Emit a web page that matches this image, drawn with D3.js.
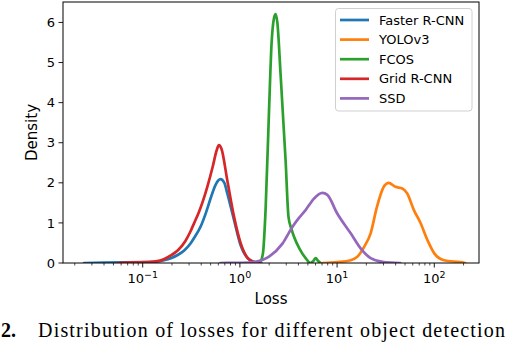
<!DOCTYPE html>
<html>
<head>
<meta charset="utf-8">
<script src="https://cdn.jsdelivr.net/npm/d3@7"></script>
<style>
  body { margin: 0; background: #fff; }
  svg { display: block; }
</style>
</head>
<body>
<svg width="506" height="342"></svg>
<script>
// Series names and colours (matplotlib tab10)
const names = ["Faster R-CNN", "YOLOv3", "FCOS", "Grid R-CNN", "SSD"];
const colors = ["#1f77b4", "#ff7f0e", "#2ca02c", "#d62728", "#9467bd"];

// KDE curves: [loss, density]
const fasterRcnn = [[0.025,0],[0.040,0.01],[0.063,0.015],[0.1,0.02],[0.132,0.03],[0.166,0.07],
  [0.195,0.12],[0.229,0.2],[0.269,0.32],[0.309,0.48],[0.339,0.63],[0.398,0.93],[0.447,1.25],
  [0.501,1.62],[0.562,1.95],[0.631,2.09],[0.692,2.0],[0.741,1.74],[0.871,1.07],[1.016,0.45],
  [1.202,0.12],[1.380,0.03],[1.66,0]];
const yolov3 = [[7.08,0],[10,0.02],[13.8,0.07],[16.2,0.16],[19.05,0.41],[22.13,0.74],[25.7,1.4],
  [30.2,1.9],[33.9,2.0],[39.8,1.9],[46.8,1.86],[52.5,1.74],[61.7,1.32],[72.4,0.99],[85.1,0.57],
  [100,0.24],[125.9,0.07],[186.2,0.02],[208.9,0]];
const fcos = [[1.549,0],[1.622,0.03],[1.726,0.24],[1.837,1.32],[1.995,3.82],[2.118,5.48],
  [2.239,6.1],[2.328,6.21],[2.427,6.0],[2.630,4.65],[2.951,2.57],[3.162,1.15],[3.388,0.85],
  [3.597,0.66],[4.074,0.37],[4.742,0.12],[5.333,0],[5.689,0.05],[6.026,0.12],[6.383,0.05],[6.761,0]];
const gridRcnn = [[0.056,0],[0.079,0.015],[0.112,0.02],[0.151,0.06],[0.195,0.19],[0.229,0.31],
  [0.275,0.55],[0.309,0.78],[0.339,1.0],[0.380,1.28],[0.417,1.55],[0.462,1.9],[0.525,2.4],
  [0.575,2.8],[0.608,2.94],[0.646,2.85],[0.741,2.07],[0.871,1.15],[1.016,0.5],[1.202,0.12],
  [1.380,0.03],[1.585,0]];
const ssd = [[0.631,0],[1.0,0.005],[1.259,0.01],[1.445,0.03],[1.995,0.16],[2.754,0.49],
  [3.467,0.9],[3.981,1.1],[4.742,1.32],[5.754,1.6],[7.047,1.75],[7.943,1.7],[10,1.24],
  [13.80,0.74],[17.38,0.37],[22.13,0.12],[30.2,0.02],[44.67,0]];
const series = [fasterRcnn, yolov3, fcos, gridRcnn, ssd];

const yTicks = [0, 1, 2, 3, 4, 5, 6];
const xTicks = [0.1, 1, 10, 100];
const xTickExp = ["\u22121", "0", "1", "2"];
const caption = "Distribution of losses for different object detection";

const svg = d3.select("svg");
const plotL = 63, plotR = 479, plotT = 2, plotB = 263;

const x = d3.scaleLog().domain([Math.pow(10, -1.82), Math.pow(10, 2.46)]).range([plotL, plotR]);
const y = d3.scaleLinear().domain([0, 6.51]).range([plotB, plotT]);

// clip
svg.append("defs").append("clipPath").attr("id", "plot")
  .append("rect").attr("x", plotL).attr("y", plotT).attr("width", plotR - plotL).attr("height", plotB - plotT);

const line = d3.line()
  .x(d => x(d[0]))
  .y(d => y(d[1]))
  .curve(d3.curveMonotoneX);

const g = svg.append("g").attr("clip-path", "url(#plot)");
series.forEach((s, i) => {
  g.append("path")
    .attr("d", line(s))
    .attr("fill", "none")
    .attr("stroke", colors[i])
    .attr("stroke-width", 2.7)
    .attr("stroke-linejoin", "round")
    .attr("stroke-linecap", "round");
});

// y axis ticks
const yAxis = svg.append("g").attr("font-family", "DejaVu Sans").attr("font-size", 13);
yTicks.forEach(t => {
  yAxis.append("line").attr("x1", plotL - 4.5).attr("x2", plotL)
    .attr("y1", y(t)).attr("y2", y(t)).attr("stroke", "#000").attr("stroke-width", 0.9);
  yAxis.append("text").attr("x", plotL - 8).attr("y", y(t)).attr("dy", "0.36em")
    .attr("text-anchor", "end").text(t);
});

// x axis minor ticks
const xAxis = svg.append("g").attr("font-family", "DejaVu Sans").attr("font-size", 13);
const [d0, d1] = x.domain();
for (let e = -2; e <= 2; e++) {
  for (let m = 2; m <= 9; m++) {
    const v = m * Math.pow(10, e);
    if (v < d0 || v > d1) continue;
    xAxis.append("line").attr("x1", x(v)).attr("x2", x(v))
      .attr("y1", plotB).attr("y2", plotB + 2.5).attr("stroke", "#000").attr("stroke-width", 0.7);
  }
}
xTicks.forEach((t, i) => {
  xAxis.append("line").attr("x1", x(t)).attr("x2", x(t))
    .attr("y1", plotB).attr("y2", plotB + 4.5).attr("stroke", "#000").attr("stroke-width", 0.9);
  const txt = xAxis.append("text").attr("x", x(t)).attr("y", plotB + 20).attr("text-anchor", "middle");
  txt.append("tspan").text("10");
  txt.append("tspan").attr("dy", -5).attr("font-size", 9.5).text(xTickExp[i]);
});

// frame
svg.append("rect").attr("x", plotL).attr("y", plotT).attr("width", plotR - plotL).attr("height", plotB - plotT)
  .attr("fill", "none").attr("stroke", "#000").attr("stroke-width", 1);

// axis labels
svg.append("text").attr("x", (plotL + plotR) / 2).attr("y", 304)
  .attr("text-anchor", "middle").attr("font-family", "DejaVu Sans").attr("font-size", 15)
  .text("Loss");
svg.append("text").attr("transform", "translate(37," + ((plotT + plotB) / 2) + ") rotate(-90)")
  .attr("text-anchor", "middle").attr("font-family", "DejaVu Sans").attr("font-size", 15)
  .text("Density");

// legend
const lg = svg.append("g").attr("font-family", "DejaVu Sans").attr("font-size", 13);
lg.append("rect").attr("x", 335.5).attr("y", 8.5).attr("width", 136.5).attr("height", 102.5)
  .attr("rx", 3).attr("fill", "#fff").attr("fill-opacity", 0.8)
  .attr("stroke", "#d0d0d0").attr("stroke-width", 1);
names.forEach((n, i) => {
  const yy = 20 + i * 19.6;
  lg.append("line").attr("x1", 340).attr("x2", 369).attr("y1", yy).attr("y2", yy)
    .attr("stroke", colors[i]).attr("stroke-width", 2.7);
  lg.append("text").attr("x", 379).attr("y", yy).attr("dy", "0.36em").text(n);
});

// caption
const cap = svg.append("g").attr("font-family", "Liberation Serif").attr("font-size", 20);
cap.append("text").attr("x", 1).attr("y", 337).attr("font-weight", "bold").text("2.");
cap.append("text").attr("x", 38).attr("y", 337)
  .attr("textLength", 467).attr("lengthAdjust", "spacing").text(caption);
</script>
</body>
</html>
